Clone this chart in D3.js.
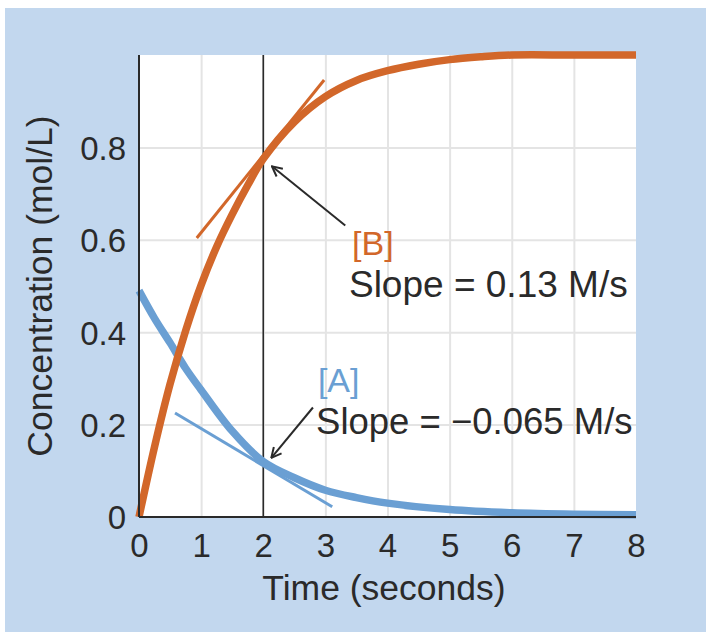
<!DOCTYPE html>
<html>
<head>
<meta charset="utf-8">
<script src="https://d3js.org/d3.v7.min.js"></script>
<style>
  body { margin: 0; background: #fff; }
  svg text { font-family: "Liberation Sans", Arial, Helvetica, sans-serif; }
</style>
</head>
<body>
<div id="chart"></div>
<script>
// values
var timeA = [0, 0.25, 0.5, 0.75, 1, 1.5, 2, 2.5, 3, 3.5, 4, 5, 6, 7, 8];
var concA = [0.49, 0.43, 0.377, 0.322, 0.275, 0.186, 0.12, 0.085, 0.058, 0.042, 0.03, 0.016, 0.009, 0.006, 0.005];

var timeB = [0, 0.25, 0.5, 0.75, 1, 1.25, 1.5, 1.75, 2, 2.5, 3, 3.5, 4, 4.5, 5, 5.5, 6, 7, 8];
var concB = [0, 0.152, 0.288, 0.403, 0.502, 0.585, 0.655, 0.718, 0.775, 0.855, 0.91, 0.945, 0.966, 0.98, 0.99, 0.996, 1.0, 1.0, 1.0];

// tangent segments at t = 2 s  [t, conc]
var tangentA = [[0.58, 0.225], [3.11, 0.022]];
var tangentB = [[0.93, 0.604], [2.98, 0.946]];

var xTicks = [0, 1, 2, 3, 4, 5, 6, 7, 8];
var yTicks = [0, 0.2, 0.4, 0.6, 0.8];
var markTime = 2;

var W = 706, H = 632;
var margin = { top: 55, right: 70, bottom: 115, left: 139 };
var width = W - margin.left - margin.right,
    height = H - margin.top - margin.bottom;

var orange = '#d2672a';
var blue = '#6a9fd3';
var ink = '#2a2a2a';

var svg = d3.select('#chart').append('svg')
    .attr('width', W)
    .attr('height', H);

// light blue panel
svg.append('rect')
    .attr('x', 5).attr('y', 8)
    .attr('width', W - 5).attr('height', H - 8)
    .attr('fill', '#c2d7ee');

var g = svg.append('g')
    .attr('transform', 'translate(' + margin.left + ',' + margin.top + ')');

var x = d3.scaleLinear().domain([0, 8]).range([0, width]);
var y = d3.scaleLinear().domain([0, 1]).range([height, 0]);

g.append('rect')
    .attr('width', width).attr('height', height)
    .attr('fill', '#fff');

// grid
g.append('g')
    .attr('class', 'xgrid')
    .attr('transform', 'translate(0,' + height + ')')
    .call(d3.axisBottom(x).tickValues(xTicks.slice(1, -1)).tickSize(-height).tickFormat(''))
    .call(function (s) { s.select('.domain').remove(); })
    .selectAll('line').attr('stroke', '#e4e4e4').attr('stroke-width', 2);

g.append('g')
    .attr('class', 'ygrid')
    .call(d3.axisLeft(y).tickValues(yTicks.slice(1)).tickSize(-width).tickFormat(''))
    .call(function (s) { s.select('.domain').remove(); })
    .selectAll('line').attr('stroke', '#e4e4e4').attr('stroke-width', 2);

// axes (labels only, lines drawn below)
var xAxis = g.append('g')
    .attr('transform', 'translate(0,' + height + ')')
    .call(d3.axisBottom(x).tickValues(xTicks).tickSize(0).tickPadding(17).tickFormat(d3.format('d')));
xAxis.select('.domain').remove();
xAxis.selectAll('text')
    .attr('fill', ink)
    .style('font-size', '33px');

var yAxis = g.append('g')
    .call(d3.axisLeft(y).tickValues(yTicks).tickSize(0).tickPadding(13)
        .tickFormat(function (d) { return d === 0 ? '0' : d3.format('.1f')(d); }));
yAxis.select('.domain').remove();
yAxis.selectAll('text')
    .attr('fill', ink)
    .attr('dy', '0.36em')
    .style('font-size', '33px');

// t = 2 marker line
g.append('line')
    .attr('x1', x(markTime)).attr('x2', x(markTime))
    .attr('y1', 0).attr('y2', height)
    .attr('stroke', ink).attr('stroke-width', 1.6);

var line = d3.line()
    .x(function (d) { return x(d[0]); })
    .y(function (d) { return y(d[1]); });

var smooth = d3.line()
    .x(function (d) { return x(d[0]); })
    .y(function (d) { return y(d[1]); })
    .curve(d3.curveCatmullRom.alpha(0.5));

// tangents
g.append('path').datum(tangentB)
    .attr('d', line).attr('fill', 'none')
    .attr('stroke', orange).attr('stroke-width', 3);
g.append('path').datum(tangentA)
    .attr('d', line).attr('fill', 'none')
    .attr('stroke', blue).attr('stroke-width', 3);

// curves
var dataA = timeA.map(function (t, i) { return [t, concA[i]]; });
var dataB = timeB.map(function (t, i) { return [t, concB[i]]; });

g.append('path').datum(dataA)
    .attr('d', smooth).attr('fill', 'none')
    .attr('stroke', blue).attr('stroke-width', 7.5);
g.append('path').datum(dataB)
    .attr('d', smooth).attr('fill', 'none')
    .attr('stroke', orange).attr('stroke-width', 7.5);

// axis lines on top
g.append('line')
    .attr('x1', 0).attr('x2', 0).attr('y1', 0).attr('y2', height)
    .attr('stroke', ink).attr('stroke-width', 2);
g.append('line')
    .attr('x1', 0).attr('x2', width).attr('y1', height).attr('y2', height)
    .attr('stroke', ink).attr('stroke-width', 2);

// arrows
svg.append('defs').append('marker')
    .attr('id', 'head')
    .attr('viewBox', '0 0 12 12')
    .attr('refX', 11).attr('refY', 6)
    .attr('markerWidth', 12).attr('markerHeight', 12)
    .attr('markerUnits', 'userSpaceOnUse')
    .attr('orient', 'auto')
    .append('path')
    .attr('d', 'M1,1 L11,6 L1,11')
    .attr('fill', 'none').attr('stroke', ink).attr('stroke-width', 2);

// arrow to B tangent point
g.append('line')
    .attr('x1', x(3.32)).attr('y1', y(0.631))
    .attr('x2', x(2.14)).attr('y2', y(0.759))
    .attr('stroke', ink).attr('stroke-width', 2)
    .attr('marker-end', 'url(#head)');

// arrow to A tangent point
g.append('line')
    .attr('x1', x(2.8)).attr('y1', y(0.237))
    .attr('x2', x(2.13)).attr('y2', y(0.128))
    .attr('stroke', ink).attr('stroke-width', 2)
    .attr('marker-end', 'url(#head)');

// labels
g.append('text')
    .attr('x', x(3.43)).attr('y', y(0.568))
    .attr('fill', orange).style('font-size', '34px')
    .text('[B]');
g.append('text')
    .attr('x', x(3.38)).attr('y', y(0.477))
    .attr('fill', ink).style('font-size', '37px')
    .text('Slope = 0.13 M/s');

g.append('text')
    .attr('x', x(2.88)).attr('y', y(0.27))
    .attr('fill', blue).style('font-size', '34px')
    .text('[A]');
g.append('text')
    .attr('x', x(2.85)).attr('y', y(0.18))
    .attr('fill', ink).style('font-size', '36.5px')
    .text('Slope = \u22120.065 M/s');

// axis titles
svg.append('text')
    .attr('x', 384)
    .attr('y', 600)
    .attr('text-anchor', 'middle')
    .attr('fill', ink).style('font-size', '35.5px')
    .text('Time (seconds)');

svg.append('text')
    .attr('transform', 'translate(52,' + (margin.top + height / 2) + ') rotate(-90)')
    .attr('text-anchor', 'middle')
    .attr('fill', ink).style('font-size', '35.5px')
    .text('Concentration (mol/L)');
</script>
</body>
</html>
